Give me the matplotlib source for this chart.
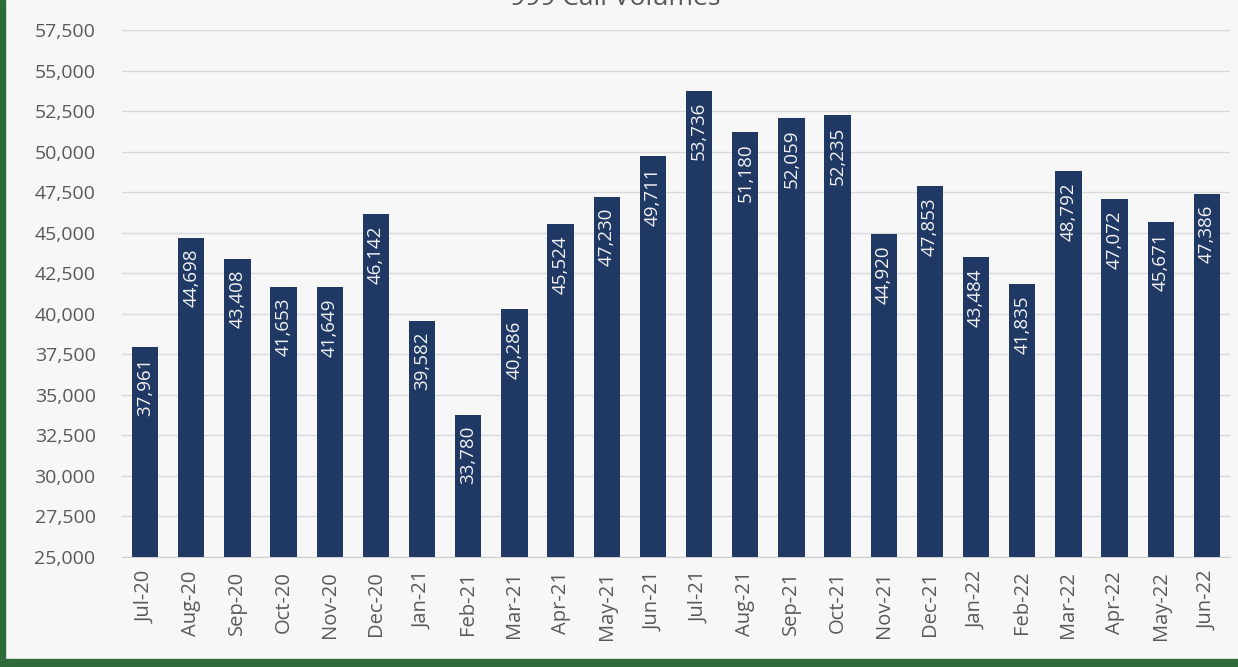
import matplotlib.pyplot as plt
from matplotlib.patches import Rectangle
from matplotlib.ticker import FuncFormatter, MultipleLocator

# monthly 999 call volumes
months = ["Jul-20", "Aug-20", "Sep-20", "Oct-20", "Nov-20", "Dec-20",
          "Jan-21", "Feb-21", "Mar-21", "Apr-21", "May-21", "Jun-21",
          "Jul-21", "Aug-21", "Sep-21", "Oct-21", "Nov-21", "Dec-21",
          "Jan-22", "Feb-22", "Mar-22", "Apr-22", "May-22", "Jun-22"]
calls = [37961, 44698, 43408, 41653, 41649, 46142,
         39582, 33780, 40286, 45524, 47230, 49711,
         53736, 51180, 52059, 52235, 44920, 47853,
         43484, 41835, 48792, 47072, 45671, 47386]

plt.rcParams['font.family'] = ['Open Sans', 'DejaVu Sans']
bg = '#f7f7f7'
navy = '#1f3864'
grey = '#595959'

fig = plt.figure(figsize=(12.38, 6.67), dpi=100, facecolor=bg)
ax = fig.add_axes([122 / 1238, 110 / 667, 1108 / 1238, 527 / 667])
ax.set_facecolor(bg)

x = range(len(months))
ax.bar(x, calls, width=0.57, color=navy, zorder=3)

# value labels inside the top of each bar
for xi, v in zip(x, calls):
    ax.annotate(f"{v:,}", (xi, v), xytext=(0, -8), textcoords='offset points',
                rotation=90, ha='center', va='top', color='#f2f2f2', fontsize=13.5, zorder=4)

ax.set_xlim(-0.5, len(months) - 0.5)
ax.set_ylim(25000, 57500)
ax.yaxis.set_major_locator(MultipleLocator(2500))
ax.yaxis.set_major_formatter(FuncFormatter(lambda v, p: f"{int(v):,}"))
ax.set_xticks(list(x))
ax.set_xticklabels(months, rotation=90)
ax.tick_params(axis='both', length=0, colors=grey)
ax.tick_params(axis='y', pad=19, labelsize=14)
ax.tick_params(axis='x', pad=10, labelsize=14.5)
ax.grid(axis='y', color='#d9d9d9', linewidth=1, zorder=0)
for s in ['top', 'right', 'left']:
    ax.spines[s].set_visible(False)
ax.spines['bottom'].set_color('#d0d0d0')

# title, mostly cut off at the top of the image (as in the source)
fig.text(615 / 1238, 1 - 5 / 667, "999 Call Volumes", ha='center', va='baseline',
         fontsize=19, color=grey)

# green frame on left and bottom
green = '#2e6b3a'
fig.patches.append(Rectangle((0, 0), 5 / 1238, 1, transform=fig.transFigure,
                             color=green, zorder=10))
fig.patches.append(Rectangle((0, 0), 1, 8 / 667, transform=fig.transFigure,
                             color=green, zorder=10))

fig.savefig("out.png", dpi=100, facecolor=bg)
